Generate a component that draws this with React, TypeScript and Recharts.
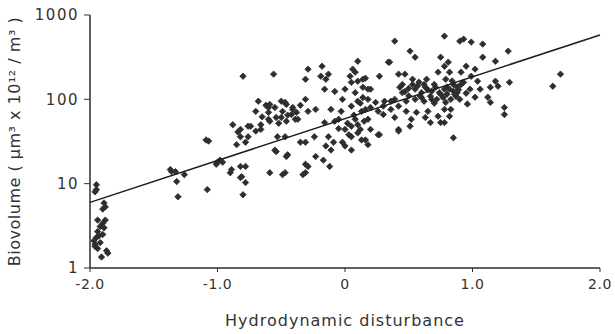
// Biovolume vs hydrodynamic disturbance - log-scale scatter with fitted trend line

import {
  ScatterChart,
  Scatter,
  XAxis,
  YAxis
} from 'recharts';

interface Pt {
  x: number;
  y: number;
}

// points near the left edge (x ~ -2)
const edgePoints: Pt[] = [
  { x: -1.95, y: 9.7 }, { x: -1.95, y: 8.5 }, { x: -1.96, y: 8.0 }, { x: -1.89, y: 5.9 },
  { x: -1.88, y: 5.3 }, { x: -1.90, y: 5.0 }, { x: -1.94, y: 3.7 }, { x: -1.88, y: 3.7 },
  { x: -1.92, y: 3.1 }, { x: -1.89, y: 3.0 }, { x: -1.94, y: 2.7 }, { x: -1.90, y: 2.5 },
  { x: -1.95, y: 2.3 }, { x: -1.92, y: 2.0 }, { x: -1.96, y: 1.9 }, { x: -1.94, y: 1.7 },
  { x: -1.87, y: 1.6 }, { x: -1.91, y: 1.35 }, { x: -1.86, y: 1.5 }, { x: -1.97, y: 2.1 },
  { x: -1.93, y: 2.4 }, { x: -1.90, y: 3.4 }, { x: -1.96, y: 1.8 }
];

// x between -1.4 and -0.75
const leftPoints: Pt[] = [
  { x: -1.37, y: 14.7 }, { x: -1.36, y: 13.9 }, { x: -1.33, y: 13.9 }, { x: -1.26, y: 12.8 },
  { x: -1.32, y: 10.6 }, { x: -1.31, y: 7.0 }, { x: -1.08, y: 8.5 }, { x: -1.09, y: 33 },
  { x: -1.07, y: 32 }, { x: -1.0, y: 18 }, { x: -0.98, y: 19 }, { x: -0.96, y: 18 },
  { x: -1.01, y: 17 }, { x: -0.90, y: 13.5 }, { x: -0.89, y: 14.7 }, { x: -0.82, y: 16 },
  { x: -0.82, y: 11.8 }, { x: -0.78, y: 10.3 }, { x: -0.80, y: 7.4 }, { x: -0.81, y: 12.1 },
  { x: -0.80, y: 188 }, { x: -0.88, y: 50 }, { x: -0.84, y: 41 }, { x: -0.82, y: 36 },
  { x: -0.85, y: 29 }, { x: -0.82, y: 44 }, { x: -0.74, y: 48 }, { x: -0.76, y: 48 },
  { x: -0.78, y: 16 }, { x: -0.76, y: 36 }, { x: -0.78, y: 31 }
];

// x between -0.7 and 0.05
const midPoints: Pt[] = [
  { x: -0.56, y: 199 }, { x: -0.29, y: 228 }, { x: -0.18, y: 247 }, { x: -0.68, y: 95 },
  { x: -0.59, y: 87 }, { x: -0.70, y: 72 }, { x: -0.60, y: 70 }, { x: -0.60, y: 80 },
  { x: -0.47, y: 92 }, { x: -0.41, y: 80 }, { x: -0.31, y: 100 }, { x: -0.29, y: 72 },
  { x: -0.23, y: 76 }, { x: -0.11, y: 76 }, { x: -0.03, y: 72 }, { x: -0.15, y: 173 },
  { x: -0.31, y: 173 }, { x: -0.13, y: 199 }, { x: -0.16, y: 132 }, { x: -0.08, y: 124 },
  { x: 0, y: 132 }, { x: -0.19, y: 188 }, { x: -0.46, y: 87 }, { x: -0.49, y: 72 },
  { x: -0.41, y: 76 }, { x: -0.54, y: 61 }, { x: -0.46, y: 55 }, { x: -0.39, y: 58 },
  { x: -0.59, y: 55 }, { x: -0.50, y: 61 }, { x: -0.42, y: 66 }, { x: -0.37, y: 58 },
  { x: -0.53, y: 36 }, { x: -0.47, y: 36 }, { x: -0.55, y: 25 }, { x: -0.45, y: 22 },
  { x: -0.35, y: 31 }, { x: -0.24, y: 36 }, { x: -0.16, y: 53 }, { x: -0.05, y: 58 },
  { x: 0, y: 44 }, { x: 0.05, y: 48 }, { x: -0.13, y: 36 }, { x: -0.15, y: 28 },
  { x: -0.09, y: 31 }, { x: -0.02, y: 31 }, { x: 0, y: 28 }, { x: -0.11, y: 25 },
  { x: -0.23, y: 21 }, { x: -0.17, y: 19 }, { x: -0.12, y: 16 }, { x: -0.31, y: 17 },
  { x: -0.29, y: 16 }, { x: -0.31, y: 13.5 }, { x: -0.33, y: 12.8 }, { x: -0.59, y: 13.5 },
  { x: -0.47, y: 13.5 }, { x: -0.49, y: 12.8 }, { x: -0.54, y: 24 }, { x: -0.46, y: 21 },
  { x: -0.31, y: 31 }, { x: -0.66, y: 44 }, { x: -0.66, y: 50 }, { x: -0.60, y: 58 },
  { x: -0.70, y: 42 }, { x: -0.65, y: 62 }, { x: -0.55, y: 80 }, { x: -0.50, y: 95 },
  { x: -0.45, y: 65 }, { x: -0.38, y: 70 }, { x: -0.35, y: 85 }, { x: -0.62, y: 85 },
  { x: -0.52, y: 52 }, { x: -0.05, y: 45 }, { x: -0.08, y: 55 }, { x: -0.02, y: 100 }
];

// x between 0.05 and 0.8
const rightMidPoints: Pt[] = [
  { x: 0.10, y: 283 }, { x: 0.34, y: 276 }, { x: 0.08, y: 210 }, { x: 0.04, y: 188 },
  { x: 0.10, y: 164 }, { x: 0.16, y: 178 }, { x: 0.27, y: 188 }, { x: 0.14, y: 139 },
  { x: 0.20, y: 132 }, { x: 0.05, y: 83 }, { x: 0.13, y: 72 }, { x: 0.20, y: 80 },
  { x: 0.30, y: 83 }, { x: 0.36, y: 95 }, { x: 0.10, y: 40 }, { x: 0.16, y: 33 },
  { x: 0.20, y: 44 }, { x: 0.26, y: 38 }, { x: 0.39, y: 490 }, { x: 0.51, y: 373 },
  { x: 0.55, y: 316 }, { x: 0.35, y: 276 }, { x: 0.75, y: 316 }, { x: 0.78, y: 562 },
  { x: 0.42, y: 199 }, { x: 0.47, y: 199 }, { x: 0.53, y: 173 }, { x: 0.64, y: 173 },
  { x: 0.73, y: 210 }, { x: 0.78, y: 247 }, { x: 0.06, y: 228 }, { x: 0.14, y: 173 },
  { x: 0.05, y: 159 }, { x: 0.18, y: 132 }, { x: 0.43, y: 139 }, { x: 0.47, y: 124 },
  { x: 0.55, y: 132 }, { x: 0.63, y: 139 }, { x: 0.71, y: 139 }, { x: 0.78, y: 132 },
  { x: 0.59, y: 109 }, { x: 0.67, y: 109 }, { x: 0.75, y: 115 }, { x: 0.39, y: 100 },
  { x: 0.31, y: 95 }, { x: 0.24, y: 92 }, { x: 0.10, y: 95 }, { x: 0.16, y: 76 },
  { x: 0.26, y: 72 }, { x: 0.36, y: 76 }, { x: 0.42, y: 83 }, { x: 0.48, y: 72 },
  { x: 0.56, y: 70 }, { x: 0.65, y: 72 }, { x: 0.73, y: 63 }, { x: 0.78, y: 76 },
  { x: 0.08, y: 58 }, { x: 0.18, y: 58 }, { x: 0.30, y: 66 }, { x: 0.39, y: 61 },
  { x: 0.52, y: 58 }, { x: 0.63, y: 61 }, { x: 0.51, y: 48 }, { x: 0.67, y: 53 },
  { x: 0.12, y: 44 }, { x: 0.27, y: 38 }, { x: 0.42, y: 44 }, { x: 0.05, y: 36 },
  { x: 0.13, y: 33 }, { x: 0.18, y: 29 }, { x: 0.05, y: 25 }, { x: 0.75, y: 53 },
  { x: 0.42, y: 42 }, { x: 0.60, y: 120 }, { x: 0.68, y: 125 }, { x: 0.72, y: 100 },
  { x: 0.62, y: 95 }, { x: 0.57, y: 145 }, { x: 0.50, y: 110 }, { x: 0.45, y: 150 },
  { x: 0.45, y: 120 }, { x: 0.50, y: 135 }, { x: 0.55, y: 100 }, { x: 0.58, y: 160 },
  { x: 0.62, y: 150 }, { x: 0.65, y: 130 }, { x: 0.68, y: 100 }, { x: 0.70, y: 150 },
  { x: 0.74, y: 120 }, { x: 0.77, y: 105 }, { x: 0.70, y: 90 }, { x: 0.48, y: 95 },
  { x: 0.53, y: 150 }, { x: 0.60, y: 105 }, { x: 0.02, y: 52 }, { x: 0.07, y: 65 },
  { x: 0.10, y: 50 }, { x: 0.15, y: 55 }, { x: 0.03, y: 38 }, { x: 0.12, y: 90 },
  { x: 0.18, y: 100 }, { x: 0.08, y: 120 }, { x: 0.14, y: 105 }
];

// x above 0.8
const rightPoints: Pt[] = [
  { x: 0.90, y: 490 }, { x: 0.93, y: 518 }, { x: 0.99, y: 477 }, { x: 1.08, y: 452 },
  { x: 1.28, y: 373 }, { x: 1.08, y: 316 }, { x: 1.18, y: 283 }, { x: 0.81, y: 276 },
  { x: 0.95, y: 247 }, { x: 1.02, y: 228 }, { x: 0.82, y: 210 }, { x: 0.91, y: 210 },
  { x: 0.99, y: 188 }, { x: 0.79, y: 173 }, { x: 0.93, y: 159 }, { x: 1.04, y: 164 },
  { x: 1.18, y: 164 }, { x: 1.29, y: 159 }, { x: 1.69, y: 199 }, { x: 1.63, y: 143 },
  { x: 0.98, y: 132 }, { x: 1.06, y: 132 }, { x: 1.14, y: 139 }, { x: 1.20, y: 143 },
  { x: 0.82, y: 132 }, { x: 0.87, y: 109 }, { x: 1.02, y: 106 }, { x: 1.12, y: 106 },
  { x: 1.14, y: 92 }, { x: 1.25, y: 80 }, { x: 1.25, y: 66 }, { x: 0.79, y: 92 },
  { x: 0.83, y: 76 }, { x: 0.82, y: 63 }, { x: 0.78, y: 53 }, { x: 0.85, y: 35 },
  { x: 0.88, y: 120 }, { x: 0.95, y: 118 }, { x: 0.85, y: 150 }, { x: 0.90, y: 100 },
  { x: 0.96, y: 88 }, { x: 0.85, y: 125 }, { x: 0.88, y: 140 }, { x: 0.80, y: 115 },
  { x: 0.80, y: 140 }, { x: 0.83, y: 100 }, { x: 0.86, y: 115 }, { x: 0.89, y: 130 },
  { x: 0.91, y: 150 }, { x: 0.84, y: 165 }
];

// regression line end points
const fitLine: Pt[] = [
  { x: -2, y: 6 },
  { x: 2, y: 580 }
];

const xTicks = [-2, -1, 0, 1, 2];
const yTicks = [1, 10, 100, 1000];

const FONT = '"DejaVu Sans", sans-serif';
const INK = '#2e2e2e';

function Marker(props: any) {
  const { cx, cy } = props;
  if (cx == null || cy == null) return <g />;
  const r = 3.2;
  const d = `M${cx},${cy - r} L${cx + r},${cy} L${cx},${cy + r} L${cx - r},${cy} Z`;
  return <path d={d} fill={INK} stroke={INK} strokeWidth={0.8} />;
}

function fmtX(v: number): string {
  return v === 0 ? '0' : v.toFixed(1);
}

const groups = [edgePoints, leftPoints, midPoints, rightMidPoints, rightPoints];

export default function App() {
  return (
    <div style={{ position: 'absolute', left: 0, top: 0, background: '#fff' }}>
      <ScatterChart
        width={615}
        height={334}
        margin={{ top: 15, right: 15, bottom: 0, left: 0 }}
      >
        <XAxis
          type="number"
          dataKey="x"
          domain={[-2, 2]}
          ticks={xTicks}
          tickFormatter={fmtX}
          height={66}
          tickSize={4}
          tickMargin={7}
          axisLine={{ stroke: INK, strokeWidth: 1.5 }}
          tickLine={{ stroke: INK }}
          tick={{ fill: '#333', fontSize: 14, fontFamily: FONT, letterSpacing: 0.5 }}
          label={{
            value: 'Hydrodynamic disturbance',
            position: 'insideBottom',
            offset: 8,
            style: { fill: '#333', fontSize: 16, fontFamily: FONT, letterSpacing: 1 }
          }}
        />
        <YAxis
          type="number"
          dataKey="y"
          scale="log"
          domain={[1, 1000]}
          ticks={yTicks}
          allowDataOverflow
          width={90}
          tickSize={6}
          tickMargin={5}
          axisLine={{ stroke: INK, strokeWidth: 1.5 }}
          tickLine={{ stroke: INK }}
          tick={{ fill: '#333', fontSize: 15, fontFamily: FONT, letterSpacing: 1.5 }}
          label={{
            value: 'Biovolume ( µm³ x 10¹² / m³ )',
            angle: -90,
            position: 'insideLeft',
            offset: 14,
            style: { textAnchor: 'middle', fill: '#333', fontSize: 16, fontFamily: FONT, letterSpacing: 0.5 }
          }}
        />
        {groups.map((g, i) => (
          <Scatter
            key={i}
            data={g}
            shape={Marker}
            isAnimationActive={false}
          />
        ))}
        <Scatter
          data={fitLine}
          line={{ stroke: '#1e1e1e', strokeWidth: 1.5 }}
          shape={() => <g />}
          isAnimationActive={false}
        />
      </ScatterChart>
    </div>
  );
}
